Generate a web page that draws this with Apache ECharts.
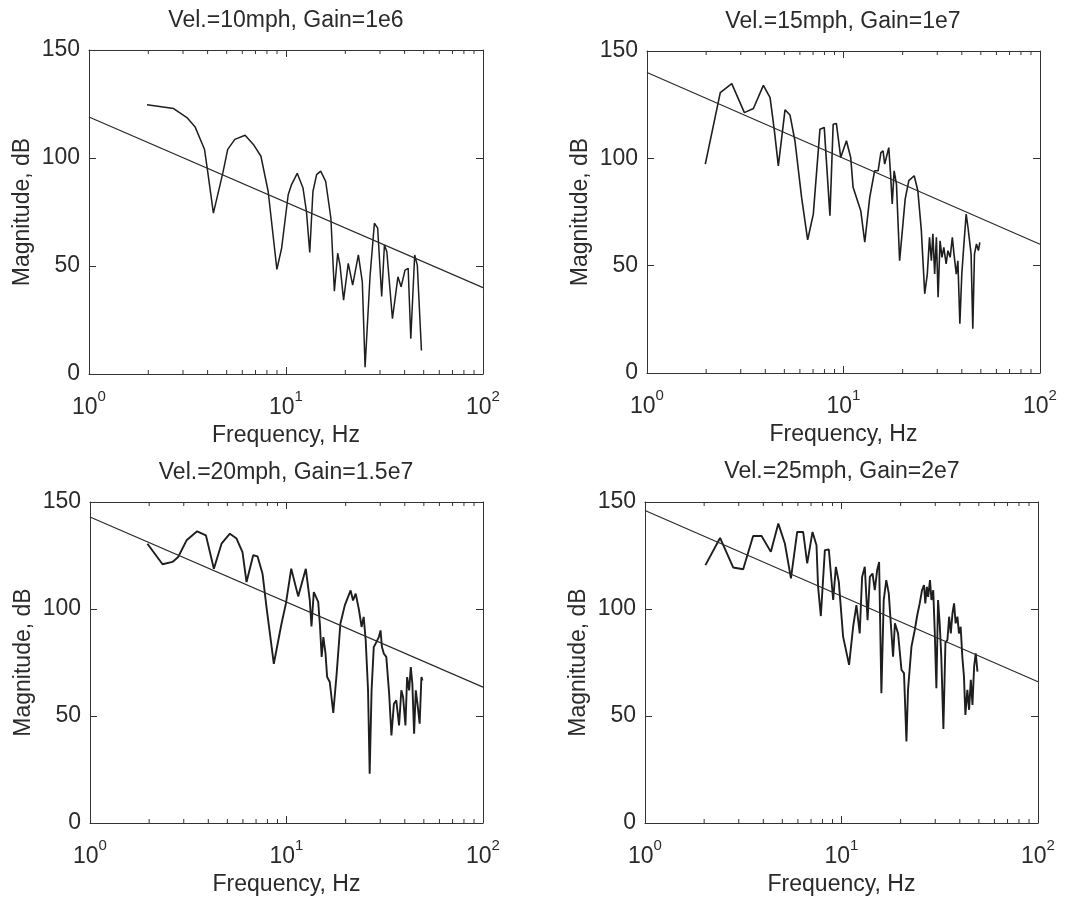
<!DOCTYPE html>
<html>
<head>
<meta charset="utf-8">
<script src="https://cdn.jsdelivr.net/npm/echarts@6/dist/echarts.min.js"></script>
<style>
html,body{margin:0;padding:0;background:#fff;}
#chart{width:1065px;height:902px;}
</style>
</head>
<body>
<div id="chart"></div>
<script>
// ---------- DATA ----------
const titles = ['Vel.=10mph, Gain=1e6', 'Vel.=15mph, Gain=1e7', 'Vel.=20mph, Gain=1.5e7', 'Vel.=25mph, Gain=2e7'];
const xName = 'Frequency, Hz';
const yName = 'Magnitude, dB';
const yTicks = [0, 50, 100, 150];
const xTicks = [1, 10, 100];
const minorTickF = [2,3,4,5,6,7,8,9,20,30,40,50,60,70,80,90];

const f1 = [1.97,2.69,3.14,3.46,3.86,3.98,4.28,4.78,5.06,5.5,6.2,6.83,7.46,8.12,8.99,9.5,10.26,10.67,11.4,12.2,12.7,13.2,13.7,14.3,15,15.9,16.9,17.6,18.3,18.8,19.6,20.7,21.8,23.3,24.4,25.2,26.7,28.1,29.2,30.6,31.6,32.5,34.7,37,38.4,40.2,41.7,43,45,46.4,48.7];
const m1 = [124.6,122.9,118.7,114.3,103.9,95.4,74.5,93.1,104,108.6,110.5,106.3,100.8,84.5,48.4,58.2,83,87.7,92.9,86.1,75.2,56.3,84.5,92.3,93.9,89.2,72.1,38.3,55.9,50.4,34.2,51.2,41.1,55.1,42.7,3.1,45.2,69.8,67.5,35.9,59.7,56.6,25.6,45,40.4,48.1,48.9,16.3,55.1,50.4,10.9];

const f2 = [1.98,2.36,2.7,3.13,3.48,3.91,4.23,4.45,4.66,5.04,5.34,5.66,6.12,6.57,7.02,7.59,7.98,8.53,8.86,9.2,9.68,10.35,10.88,11.19,12.24,12.83,13.6,14.4,15,15.5,15.9,16.2,17,17.4,17.7,18.1,18.6,19.3,20.6,21.5,22.9,23.9,24.9,25.9,26.7,27.4,28,28.5,29.1,29.7,30.3,31,31.7,32.4,33.3,34,34.9,35.8,36.5,37.5,38.2,39.1,40,41,42.1,43,43.8,44.6,45.5,46.4,47.5,48.6,49.4];
const m2 = [97.3,130.6,134.8,121.3,123.2,134,128.3,112.8,96.5,122.6,120.2,108.2,81.8,62,74,113.6,114.4,73.3,115.9,116.2,100.4,108.2,100.4,86.5,75.6,60.9,81.8,94.2,94.2,102.7,103.5,97.3,105,91.1,78.7,94.2,88,52.3,81,89.6,91.9,84.9,66.3,36.9,46.1,63.2,52.3,64.8,46.1,63.2,35.3,61.6,53.9,58.5,50.8,57,53.9,63.2,55.4,46.1,52.3,22.9,46.1,60.1,74,67.9,61.6,55.4,20.6,55.4,60.1,57,60.9];

const f3 = [1.96,2.34,2.63,2.81,3.1,3.51,3.89,4.27,4.67,5.15,5.57,5.97,6.26,6.77,7.12,7.55,7.91,8.62,9.43,9.93,10.57,11.47,12.54,13.14,13.4,13.77,14.5,14.8,15.1,15.4,15.8,16.1,16.6,17.3,18,18.8,19.8,21.2,21.8,22.5,23.4,24.1,24.7,25.3,26,26.5,27.1,27.8,28.7,29.5,30.1,30.6,31.3,32.2,33.3,34.2,35.2,36.2,37.4,38.4,39.2,40.3,41.1,42.1,42.9,43.7,44.6,45.5,46.4,47.6,48.6,49.2];
const m3 = [130.5,120.9,122,124.3,132.1,136.3,134.4,118.8,130.5,135.2,132.9,126.6,112.6,125.1,124.6,116.5,100.9,74.4,93.1,102.5,118.8,105.9,118.8,104,91.9,107.9,103.3,92.3,77.6,86.9,79.1,68.2,65.9,51.4,69.8,93.1,101.7,108.7,104,107.2,99.4,91.6,96.3,85.3,62,23,62,82.2,84.6,86.9,90,82.2,79.1,77.6,60.4,40.9,55.7,57.3,45.6,62,58.9,45.6,68.2,62,72.9,65.1,41.7,62,55.7,46.4,68.2,66.6];

const f4 = [2.03,2.41,2.81,3.16,3.55,3.92,4.37,4.77,5.15,5.53,5.95,6.38,6.69,7.12,7.46,7.6,7.85,8.23,8.62,9.07,9.36,9.69,10.19,10.93,11.46,11.91,12.38,12.73,13.14,13.57,13.94,14.38,14.77,15.18,15.54,15.96,16.4,16.9,17.4,17.8,18.3,18.7,19.4,20.2,20.8,21.4,21.8,22.7,23.6,24.3,25,25.7,26.3,26.7,27.2,27.6,28.2,28.7,29.3,29.8,30.4,31,31.6,32.2,33,33.8,34.6,35.3,36,36.7,37.4,38.1,38.9,39.6,40.4,41.2,42,42.7,43.7,44.6,45.5,46.4,47.3,48.2,49.2];
const m4 = [120.5,133.2,119.4,118.6,134.1,134.1,126.7,139.9,130.6,114.3,136,136,121.3,136,129.8,110.4,96.7,127.5,127.8,104.2,119.7,112.7,87.1,73.9,91.7,101.8,88.6,115,119.7,94.8,115,116.6,108.8,118.1,122,60.6,104.2,113.5,107.3,107.3,77.7,93.3,88.6,71.5,70,38.1,62.2,82.4,90.2,97.2,102.6,108.8,111.2,102.6,110.4,105.7,113.5,104.2,108.8,90.2,63,104.2,93.3,77.7,43.9,84.3,85.5,96.4,88.6,97.9,102.6,93.3,96.4,88.6,91.7,77.7,68.4,50.5,62.2,52.9,66.9,55.2,73.1,79.3,70.7];

// Straight reference (gain) lines: endpoints at f = 1 and f = 100
const refF = [1, 100];
const ref1 = [119, 40];
const ref2 = [140, 60];
const ref3 = [143, 63.5];
const ref4 = [146, 66];

// ---------- LAYOUT ----------
const grids = [
  {left: 89, top: 50, width: 394, height: 324},
  {left: 647, top: 51, width: 393, height: 322},
  {left: 90, top: 502, width: 393, height: 321},
  {left: 645, top: 502, width: 393, height: 321}
];
const titlePos = [[286, 21], [843, 22], [286, 473], [842, 472]];
const lineWidths = [1.5, 1.6, 1.9, 1.9];

const fs = [f1, f2, f3, f4];
const ms = [m1, m2, m3, m4];
const refs = [ref1, ref2, ref3, ref4];

const FONT = '"Liberation Sans", Arial, Helvetica, sans-serif';
const TXT = '#2a2a2a';
const AX = '#333';

function pairs(xs, ys) { return xs.map((x, i) => [x, ys[i]]); }

const xAxes = [], yAxes = [], series = [], graphics = [];
grids.forEach((g, i) => {
  // bottom x axis
  xAxes.push({
    type: 'log', logBase: 10, gridIndex: i, min: xTicks[0], max: xTicks[xTicks.length - 1],
    position: 'bottom',
    name: xName, nameLocation: 'middle', nameGap: 50,
    nameTextStyle: {fontFamily: FONT, fontSize: 23, color: TXT},
    axisLine: {show: true, onZero: false, lineStyle: {color: AX, width: 1}},
    axisTick: {show: true, inside: true, length: 7, lineStyle: {color: AX}},
    minorTick: {show: false},
    splitLine: {show: false},
    axisLabel: {
      show: true, margin: 15, showMinLabel: true, showMaxLabel: true,
      fontFamily: FONT, color: TXT,
      formatter: function (v) { return '{b|10}{s|' + Math.round(Math.log10(v)) + '}'; },
      rich: {
        b: {fontFamily: FONT, fontSize: 23, color: TXT, verticalAlign: 'bottom', lineHeight: 30},
        s: {fontFamily: FONT, fontSize: 15, color: TXT, verticalAlign: 'top', lineHeight: 30}
      }
    }
  });
  // top x axis (box edge with ticks)
  xAxes.push({
    type: 'log', logBase: 10, gridIndex: i, min: xTicks[0], max: xTicks[xTicks.length - 1],
    position: 'top',
    axisLine: {show: true, onZero: false, lineStyle: {color: AX, width: 1}},
    axisTick: {show: true, inside: true, length: 7, lineStyle: {color: AX}},
    axisLabel: {show: false}, splitLine: {show: false}
  });
  yAxes.push({
    type: 'value', gridIndex: i, min: yTicks[0], max: yTicks[yTicks.length - 1], interval: 50,
    position: 'left',
    name: yName, nameLocation: 'middle', nameGap: 55, nameRotate: 90,
    nameTextStyle: {fontFamily: FONT, fontSize: 23, color: TXT},
    axisLine: {show: true, onZero: false, lineStyle: {color: AX, width: 1}},
    axisTick: {show: true, inside: true, length: 7, lineStyle: {color: AX}},
    splitLine: {show: false},
    axisLabel: {show: true, margin: 9, fontFamily: FONT, fontSize: 23, color: TXT}
  });
  yAxes.push({
    type: 'value', gridIndex: i, min: yTicks[0], max: yTicks[yTicks.length - 1], interval: 50,
    position: 'right',
    axisLine: {show: true, onZero: false, lineStyle: {color: AX, width: 1}},
    axisTick: {show: true, inside: true, length: 7, lineStyle: {color: AX}},
    splitLine: {show: false},
    axisLabel: {show: false}
  });
  // measured spectrum
  series.push({
    type: 'line', xAxisIndex: 2 * i, yAxisIndex: 2 * i,
    data: pairs(fs[i], ms[i]), showSymbol: false, symbol: 'none', clip: true,
    lineStyle: {color: '#1e1e1e', width: lineWidths[i]}, animation: false, silent: true
  });
  // gain reference line
  series.push({
    type: 'line', xAxisIndex: 2 * i, yAxisIndex: 2 * i,
    data: pairs(refF, refs[i]), showSymbol: false, symbol: 'none', clip: true,
    lineStyle: {color: '#2a2a2a', width: 1.2}, animation: false, silent: true
  });
  // minor log ticks (top and bottom edges)
  series.push({
    type: 'custom', xAxisIndex: 2 * i, yAxisIndex: 2 * i, silent: true, animation: false,
    data: minorTickF.map(f => [f, 0]),
    renderItem: function (params, api) {
      const f = api.value(0);
      const b = api.coord([f, yTicks[0]]);
      const t = api.coord([f, yTicks[yTicks.length - 1]]);
      return {
        type: 'group', children: [
          {type: 'line', shape: {x1: b[0], y1: b[1], x2: b[0], y2: b[1] - 4}, style: {stroke: AX, lineWidth: 1}},
          {type: 'line', shape: {x1: t[0], y1: t[1], x2: t[0], y2: t[1] + 4}, style: {stroke: AX, lineWidth: 1}}
        ]
      };
    }
  });
  graphics.push({
    type: 'text', x: titlePos[i][0], y: titlePos[i][1],
    style: {text: titles[i], font: '23px ' + FONT, fill: TXT, textAlign: 'center', textVerticalAlign: 'middle'}
  });
});

const chart = echarts.init(document.getElementById('chart'), null, {renderer: 'canvas'});
chart.setOption({
  backgroundColor: '#ffffff',
  animation: false,
  grid: grids,
  xAxis: xAxes,
  yAxis: yAxes,
  series: series,
  graphic: graphics
});
</script>
</body>
</html>
